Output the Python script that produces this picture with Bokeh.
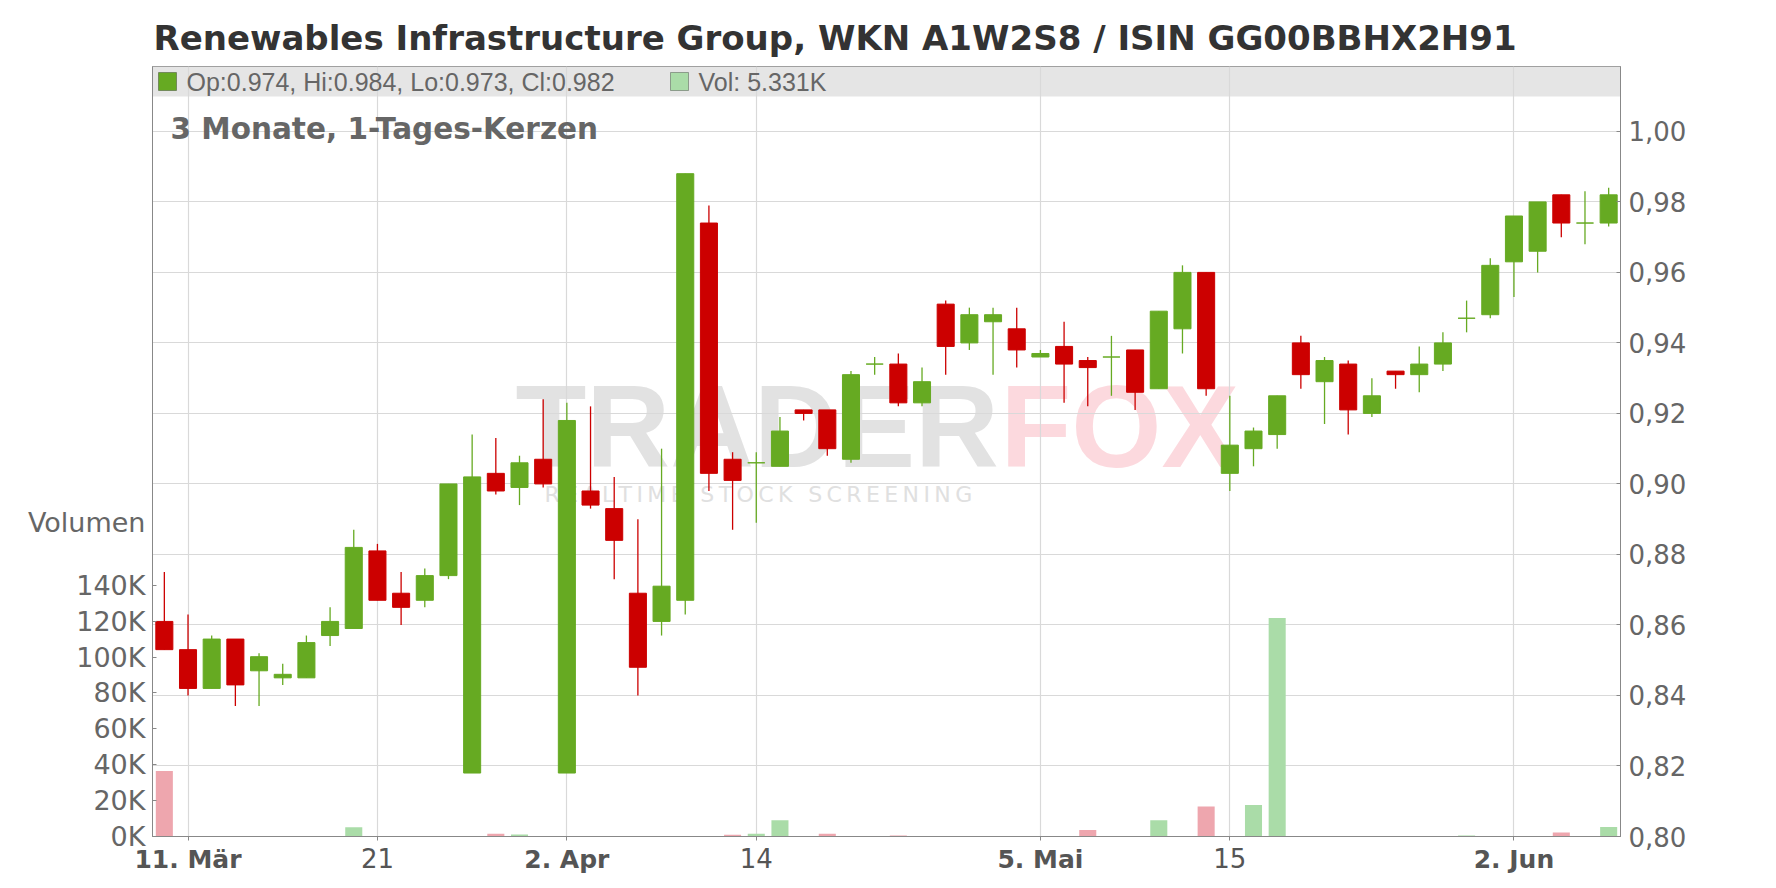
from bokeh.plotting import figure
from bokeh.models import (Range1d, LinearAxis, FixedTicker, CustomJSTickFormatter,
                          Label, BoxAnnotation, ColumnDataSource)
from bokeh.embed import file_html
from bokeh.resources import INLINE

# ---------------- data ----------------
opens = [0.861, 0.853, 0.842, 0.856, 0.847, 0.845, 0.845, 0.857, 0.859, 0.881,
         0.869, 0.867, 0.874, 0.818, 0.903, 0.899, 0.907, 0.818, 0.898, 0.893,
         0.869, 0.861, 0.867, 0.974, 0.907, 0.906, 0.905, 0.921, 0.921, 0.907,
         0.934, 0.934, 0.923, 0.951, 0.940, 0.946, 0.944, 0.936, 0.939, 0.935,
         0.936, 0.938, 0.927, 0.944, 0.960, 0.903, 0.910, 0.914, 0.940, 0.929,
         0.934, 0.920, 0.932, 0.931, 0.934, 0.947, 0.948, 0.963, 0.966, 0.982,
         0.974, 0.974]
highs = [0.875, 0.863, 0.857, 0.856, 0.852, 0.849, 0.857, 0.865, 0.887, 0.883,
         0.875, 0.876, 0.900, 0.914, 0.913, 0.908, 0.924, 0.923, 0.922, 0.902,
         0.890, 0.910, 0.988, 0.979, 0.909, 0.909, 0.919, 0.921, 0.921, 0.932,
         0.936, 0.937, 0.933, 0.952, 0.950, 0.950, 0.950, 0.938, 0.946, 0.936,
         0.942, 0.938, 0.949, 0.962, 0.960, 0.925, 0.916, 0.925, 0.942, 0.936,
         0.935, 0.930, 0.932, 0.939, 0.943, 0.952, 0.964, 0.976, 0.980, 0.982,
         0.983, 0.984]
lows = [0.853, 0.840, 0.842, 0.837, 0.837, 0.843, 0.845, 0.854, 0.859, 0.867,
        0.860, 0.865, 0.873, 0.818, 0.897, 0.894, 0.899, 0.818, 0.893, 0.873,
        0.840, 0.857, 0.863, 0.898, 0.887, 0.889, 0.905, 0.918, 0.908, 0.906,
        0.931, 0.922, 0.922, 0.931, 0.938, 0.931, 0.933, 0.936, 0.923, 0.922,
        0.925, 0.921, 0.927, 0.937, 0.925, 0.898, 0.905, 0.910, 0.927, 0.917,
        0.914, 0.919, 0.927, 0.926, 0.932, 0.943, 0.947, 0.953, 0.960, 0.970,
        0.968, 0.973]
closes = [0.853, 0.842, 0.856, 0.843, 0.851, 0.846, 0.855, 0.861, 0.882, 0.867,
          0.865, 0.874, 0.900, 0.902, 0.898, 0.906, 0.900, 0.918, 0.894, 0.884,
          0.848, 0.871, 0.988, 0.903, 0.901, 0.906, 0.915, 0.920, 0.910, 0.931,
          0.934, 0.923, 0.929, 0.939, 0.948, 0.948, 0.938, 0.937, 0.934, 0.933,
          0.936, 0.926, 0.949, 0.960, 0.927, 0.911, 0.915, 0.925, 0.931, 0.935,
          0.921, 0.925, 0.931, 0.934, 0.940, 0.947, 0.962, 0.976, 0.980, 0.974,
          0.974, 0.982]
volumes = [36500, 0, 0, 0, 0, 0, 0, 0, 5200, 0,
           0, 0, 0, 0, 1600, 1100, 0, 0, 0, 0,
           0, 0, 0, 0, 1000, 1600, 9100, 0, 1600, 0,
           0, 500, 0, 0, 0, 0, 0, 0, 0, 3600,
           0, 0, 9100, 0, 16700, 0, 17600, 121800, 0, 0,
           0, 0, 0, 0, 0, 500, 0, 0, 0, 2200,
           0, 5331]

tick_idx = [1, 9, 17, 25, 37, 45, 57]
tick_labels = ["11. Mär", "21", "2. Apr", "14", "5. Mai", "15", "2. Jun"]
tick_bold = [True, False, True, False, True, False, True]
price_ticks = [0.80, 0.82, 0.84, 0.86, 0.88, 0.90, 0.92, 0.94, 0.96, 0.98, 1.00]
vol_ticks = [0, 20000, 40000, 60000, 80000, 100000, 120000, 140000]
vol_title = "Volumen"
vol_title_pos = 175000

title_text = "Renewables Infrastructure Group, WKN A1W2S8 / ISIN GG00BBHX2H91"
subtitle_text = "3 Monate, 1-Tages-Kerzen"

# ---------------- styles ----------------
GREEN = "#66aa22"
RED = "#cc0000"
VGREEN = "#aadca8"
VRED = "#eea6ae"
GRID = "#d9d9d9"
AXIS = "#888888"
TXT = "#666666"

idx = list(range(len(opens)))
up = [c >= o for o, c in zip(opens, closes)]
src = ColumnDataSource(dict(
    x=idx, o=opens, h=highs, l=lows, c=closes, v=volumes,
    top=[max(o, c) for o, c in zip(opens, closes)],
    bot=[min(o, c) for o, c in zip(opens, closes)],
    col=[GREEN if u else RED for u in up],
    vcol=[VGREEN if u else VRED for u in up],
))

W, H = 1776, 886
p = figure(width=W, height=H, x_range=Range1d(-0.5, 61.5), y_range=Range1d(0.80, 1.0184),
           y_axis_location="right", output_backend="svg", toolbar_location=None,
           min_border_left=152, min_border_right=156, min_border_top=66, min_border_bottom=50)
p.extra_y_ranges = {"vol": Range1d(0, 429000)}
p.outline_line_color = AXIS
p.background_fill_color = "white"

# title
p.title.text = title_text
p.title.text_font = "DejaVu Sans"
p.title.text_font_style = "bold"
p.title.text_font_size = "34px"
p.title.text_color = "#333333"
p.title.align = "left"
p.title.offset = 1
p.title.standoff = 18

# price axis (right)
ya = p.yaxis[0]
ya.ticker = FixedTicker(ticks=price_ticks)
ya.formatter = CustomJSTickFormatter(code="return tick.toFixed(2).replace('.', ',');")
ya.major_label_text_font = "DejaVu Sans"
ya.major_label_text_font_size = "26px"
ya.major_label_text_color = TXT
ya.axis_line_color = AXIS
ya.major_tick_line_color = AXIS
ya.major_tick_in = 4
ya.major_tick_out = 0
ya.minor_tick_line_color = None
ya.major_label_standoff = 8

# volume axis (left) incl. its "Volumen" caption as an extra label
vol_fmt = CustomJSTickFormatter(
    args=dict(cap=vol_title, cap_pos=vol_title_pos),
    code="return tick == cap_pos ? cap : (tick/1000).toFixed(0) + 'K';")
va = LinearAxis(y_range_name="vol",
                ticker=FixedTicker(ticks=vol_ticks + [vol_title_pos], minor_ticks=vol_ticks),
                formatter=vol_fmt)
va.major_label_text_font = "DejaVu Sans"
va.major_label_text_font_size = "27px"
va.major_label_text_color = TXT
va.axis_line_color = AXIS
va.major_tick_line_color = None
va.major_tick_in = 0
va.major_tick_out = 0
va.minor_tick_line_color = AXIS
va.minor_tick_in = 4
va.minor_tick_out = 0
va.major_label_standoff = 7
p.add_layout(va, "left")

# x axis: bold month labels
xa = p.xaxis[0]
xa.ticker = FixedTicker(ticks=tick_idx)
xa.major_label_overrides = {t: (lab if b else "") for t, lab, b in zip(tick_idx, tick_labels, tick_bold)}
xa.major_label_text_font = "DejaVu Sans"
xa.major_label_text_font_style = "bold"
xa.major_label_text_font_size = "25px"
xa.major_label_text_color = "#555555"
xa.axis_line_color = AXIS
xa.major_tick_line_color = AXIS
xa.major_tick_in = 0
xa.major_tick_out = 4
xa.minor_tick_line_color = None
xa.major_label_standoff = 4

# x axis: plain day labels (second axis pulled up onto the same line)
plain_t = [t for t, b in zip(tick_idx, tick_bold) if not b]
xb = LinearAxis(ticker=FixedTicker(ticks=plain_t),
                major_label_overrides={t: lab for t, lab, b in zip(tick_idx, tick_labels, tick_bold) if not b})
xb.major_label_text_font = "DejaVu Sans"
xb.major_label_text_font_size = "26px"
xb.major_label_text_color = "#555555"
xb.axis_line_color = None
xb.major_tick_line_color = None
xb.minor_tick_line_color = None
xb.major_tick_in = 0
xb.major_tick_out = 0
xb.major_label_standoff = -29
p.add_layout(xb, "below")

p.xgrid.grid_line_color = GRID
p.ygrid.grid_line_color = GRID
p.xgrid.grid_line_width = 1.2
p.ygrid.grid_line_width = 1.2

# legend bar (top strip of plot area)
p.add_layout(BoxAnnotation(top=66, bottom=96, top_units="canvas", bottom_units="canvas",
                           fill_color="#e5e5e5", fill_alpha=1.0, line_color=None, level="image"))

# watermark
p.add_layout(Label(x=515, y=426, x_units="canvas", y_units="canvas", text="TRADER",
                   text_font="Liberation Sans", text_font_style="bold", text_font_size="116px",
                   text_color="#e2e2e2", text_baseline="middle", level="image"))
p.add_layout(Label(x=1000, y=426, x_units="canvas", y_units="canvas", text="FOX",
                   text_font="Liberation Sans", text_font_style="bold", text_font_size="116px",
                   text_color="#fcd9de", text_baseline="middle", level="image"))
p.add_layout(Label(x=544, y=494, x_units="canvas", y_units="canvas",
                   text="R\u2009E\u2009A\u2009L\u2009T\u2009I\u2009M\u2009E\u2009 \u2009S\u2009T\u2009O\u2009C\u2009K\u2009 \u2009S\u2009C\u2009R\u2009E\u2009E\u2009N\u2009I\u2009N\u2009G",
                   text_font="DejaVu Sans", text_font_size="22px",
                   text_color="#e0e0e0", text_baseline="middle", level="image"))

# volume bars
p.vbar(x="x", width=0.72, top="v", bottom=0, fill_color="vcol", line_color=None,
       y_range_name="vol", source=src)
# candles
p.segment(x0="x", y0="l", x1="x", y1="h", line_color="col", line_width=1.3, source=src)
p.vbar(x="x", width=0.72, top="top", bottom="bot", fill_color="col", line_color="col",
       line_width=1, source=src)

# subtitle inside the plot
p.add_layout(Label(x=170, y=128, x_units="canvas", y_units="canvas", text=subtitle_text,
                   text_font="DejaVu Sans", text_font_style="bold", text_font_size="29.5px",
                   text_color=TXT, text_baseline="middle"))

# legend contents
p.add_layout(BoxAnnotation(left=158, right=176, top=72, bottom=90, left_units="canvas",
                           right_units="canvas", top_units="canvas", bottom_units="canvas",
                           fill_color=GREEN, fill_alpha=1.0, line_color="black", line_width=1))
p.add_layout(BoxAnnotation(left=670, right=688, top=72, bottom=90, left_units="canvas",
                           right_units="canvas", top_units="canvas", bottom_units="canvas",
                           fill_color=VGREEN, fill_alpha=1.0, line_color="black", line_width=1))
ohlc_text = "Op:%.3f, Hi:%.3f, Lo:%.3f, Cl:%.3f" % (opens[-1], highs[-1], lows[-1], closes[-1])
vol_text = "Vol: %.3fK" % (volumes[-1] / 1000)
p.add_layout(Label(x=186, y=81, x_units="canvas", y_units="canvas", text=ohlc_text,
                   text_font="Liberation Sans", text_font_size="25px",
                   text_color=TXT, text_baseline="middle"))
p.add_layout(Label(x=698, y=81, x_units="canvas", y_units="canvas", text=vol_text,
                   text_font="Liberation Sans", text_font_size="25px",
                   text_color=TXT, text_baseline="middle"))

open("out.html", "w").write(file_html(p, INLINE))
